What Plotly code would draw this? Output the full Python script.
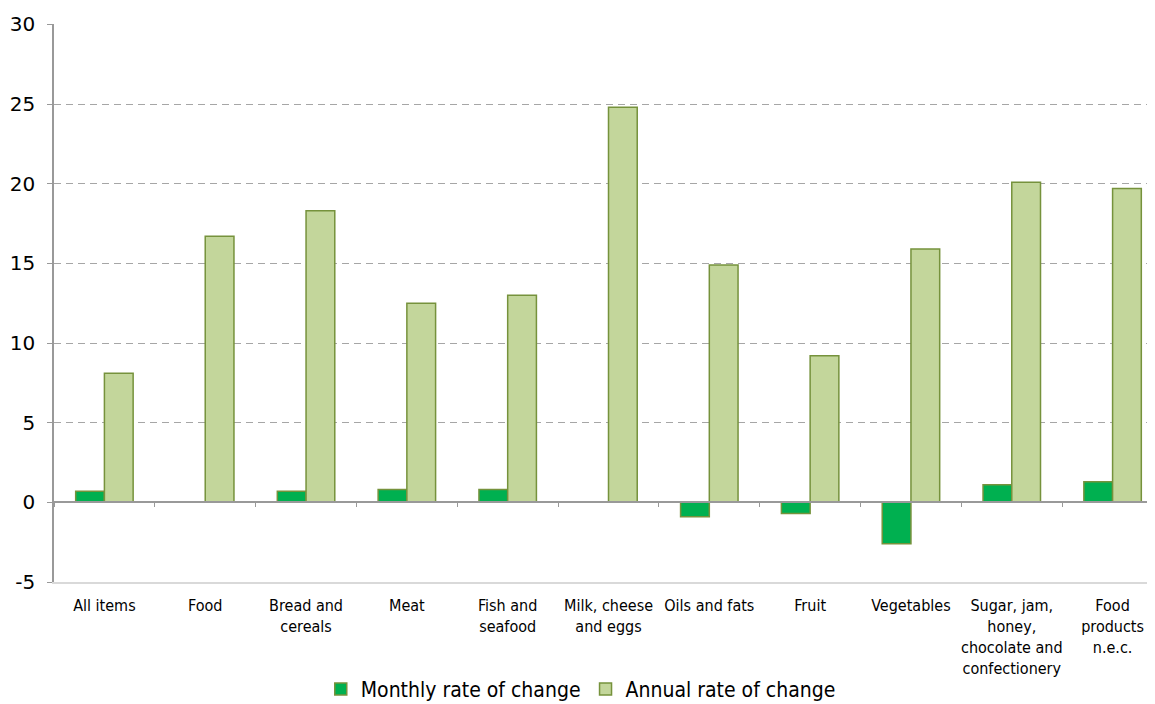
import plotly.graph_objects as go

categories = ["All items", "Food", "Bread and<br>cereals", "Meat", "Fish and<br>seafood",
              "Milk, cheese<br>and eggs", "Oils and fats", "Fruit", "Vegetables",
              "Sugar, jam,<br>honey,<br>chocolate and<br>confectionery", "Food<br>products<br>n.e.c."]
monthly = [0.7, 0.0, 0.7, 0.8, 0.8, 0.0, -0.9, -0.7, -2.6, 1.1, 1.3]
annual = [8.1, 16.7, 18.3, 12.5, 13.0, 24.8, 14.9, 9.2, 15.9, 20.1, 19.7]
y_ticks = [-5, 0, 5, 10, 15, 20, 25, 30]
y_ticktext = ["-5", "0", "5", "10", "15", "20", "25", "30"]

border = "#76923C"
fig = go.Figure()
fig.add_trace(go.Bar(name="Monthly rate of change", x=categories, y=monthly,
                     marker=dict(color="#00B050", line=dict(color=border, width=1.5))))
fig.add_trace(go.Bar(name="Annual rate of change", x=categories, y=annual,
                     marker=dict(color="#C3D69B", line=dict(color=border, width=1.5))))
# invisible helper trace for the category-boundary axis at y=0
fig.add_trace(go.Scatter(x=categories, y=[None] * len(categories), xaxis="x2",
                         showlegend=False, hoverinfo="skip", mode="markers"))

fig.update_layout(
    width=1155, height=704,
    margin=dict(l=46, r=0, t=16, b=130),
    paper_bgcolor="white", plot_bgcolor="white",
    barmode="group", bargap=0.43, bargroupgap=0,
    font=dict(family="DejaVu Sans", color="black"),
    showlegend=True,
    legend=dict(orientation="h", x=0.475, xanchor="center", xref="paper",
                yref="container", y=0.032, yanchor="middle",
                font=dict(family="DejaVu Sans Condensed, DejaVu Sans", size=21),
                itemwidth=30, traceorder="normal"),
    xaxis=dict(type="category", range=[-0.5, 10.5], showgrid=False, zeroline=False,
               showline=True, linecolor="#D9D9D9", linewidth=2, ticks="",
               tickfont=dict(family="DejaVu Sans Condensed, DejaVu Sans", size=16),
               tickangle=0, automargin=False, ticklabelstandoff=8),
    xaxis2=dict(type="category", range=[-0.5, 10.5], overlaying="x", anchor="free",
                position=5 / 35.03, showline=True, linecolor="#999999", linewidth=1.5,
                ticks="outside", ticklen=4, tickcolor="#999999", tickson="boundaries",
                showticklabels=False, showgrid=False, zeroline=False, automargin=False),
    yaxis=dict(range=[-5, 30.03], tickvals=y_ticks, ticktext=y_ticktext, showgrid=True,
               gridcolor="#A6A6A6", griddash="7px,5px", gridwidth=1, zeroline=False,
               showline=True, linecolor="#999999", linewidth=1.5, ticks="outside",
               ticklen=5, tickcolor="#999999", tickfont=dict(size=20), automargin=False,
               ticklabelstandoff=8),
)
fig.write_html("out.html")
